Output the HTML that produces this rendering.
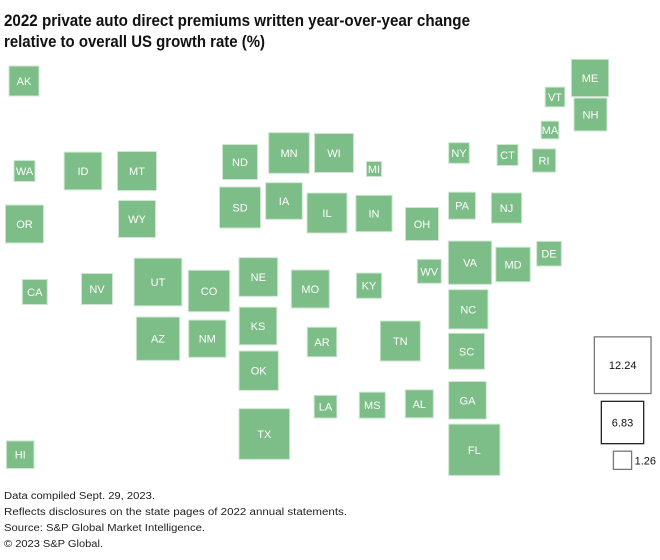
<!DOCTYPE html>
<html><head><meta charset="utf-8"><style>
html,body{margin:0;padding:0;background:#fff;width:660px;height:560px;overflow:hidden}
svg{display:block;font-family:"Liberation Sans",sans-serif}
</style></head><body>
<svg id="chart" width="660" height="560" viewBox="0 0 660 560">
<text x="4" y="26" font-size="17" font-weight="bold" fill="#111" textLength="466" lengthAdjust="spacingAndGlyphs">2022 private auto direct premiums written year-over-year change</text>
<text x="4" y="47" font-size="17" font-weight="bold" fill="#111" textLength="261" lengthAdjust="spacingAndGlyphs">relative to overall US growth rate (%)</text>
<g id="tiles"></g>
<g id="legend"></g>
<text x="4" y="499" font-size="10" fill="#222" textLength="151" lengthAdjust="spacingAndGlyphs">Data compiled Sept. 29, 2023.</text>
<text x="4" y="515" font-size="10" fill="#222" textLength="343" lengthAdjust="spacingAndGlyphs">Reflects disclosures on the state pages of 2022 annual statements.</text>
<text x="4" y="531" font-size="10" fill="#222" textLength="201" lengthAdjust="spacingAndGlyphs">Source: S&amp;P Global Market Intelligence.</text>
<text x="4" y="547" font-size="10" fill="#222" textLength="99" lengthAdjust="spacingAndGlyphs">© 2023 S&amp;P Global.</text>
</svg>
<script>
const states = ["AK","WA","ID","MT","OR","WY","ND","MN","SD","IA","IL","WI","ME","VT","NH","MA","NY","CT","RI","MI","IN","PA","NJ","OH","VA","MD","DE","WV","KY","CA","NV","UT","CO","NE","MO","AZ","NM","KS","OK","AR","LA","TX","HI","NC","TN","SC","MS","AL","GA","FL"];
const values = [3.43,1.68,5.42,5.80,5.50,5.22,4.67,6.31,6.41,5.13,6.10,5.80,5.30,1.48,4.15,1.19,1.63,1.68,2.07,0.86,5.02,2.78,3.50,4.15,7.14,4.54,2.32,2.19,2.44,2.38,3.66,8.67,6.53,5.71,5.50,7.14,5.30,5.39,5.89,3.32,1.96,9.79,2.90,5.89,6.10,4.94,2.58,2.99,5.39,10.03];
const legendValues = [12.24,6.83,1.26];
const legendLabels = ["12.24","6.83","1.26"];

// layout: tile centers (grid positions of the cartogram, not data)
const layout = {AK:[24,81],WA:[24.5,171],ID:[83,171],MT:[137,171],OR:[24.5,224],WY:[137,219],ND:[240,162],MN:[289,153],SD:[240,207.5],IA:[284,201],IL:[327,213],WI:[334,153],ME:[590,78],VT:[555,97],NH:[590.5,114.5],MA:[550,130],NY:[459,153],CT:[507.5,155],RI:[544,160.5],MI:[374,169],IN:[374,213.5],PA:[462,205.7],NJ:[506.5,208],OH:[422,224],VA:[470,262.7],MD:[513,264.5],DE:[549,253.7],WV:[429.3,271.3],KY:[369,285.7],CA:[34.8,292],NV:[97,289],UT:[158,282],CO:[209,291],NE:[258.3,277],MO:[310.3,289],AZ:[158,338.7],NM:[207.3,338.7],KS:[258,326],OK:[258.7,370.7],AR:[322,342],LA:[325.5,406.7],TX:[264.3,434],HI:[20.2,454.7],NC:[468.3,309.3],TN:[400.3,341],SC:[466.5,351.3],MS:[372.3,405.2],AL:[419.3,403.8],GA:[467.5,400.3],FL:[474.3,449.8]};
const K = 16.2;
function side(v){ return K*Math.sqrt(Math.max(v,0)); }
const NS = "http://www.w3.org/2000/svg";
const tiles = document.getElementById('tiles');
states.forEach((s,i)=>{
  const c = layout[s]; const w = side(values[i]);
  const g = document.createElementNS(NS,'g');
  
  
  const r = document.createElementNS(NS,'rect');
  
  
  r.setAttribute('x', c[0]-w/2); r.setAttribute('y', c[1]-w/2);
  r.setAttribute('width', w); r.setAttribute('height', w);
  r.setAttribute('fill', '#7dbe88'); r.setAttribute('stroke', '#cfe6d2'); r.setAttribute('stroke-width', '1');
  g.appendChild(r);
  const t = document.createElementNS(NS,'text');
  
  
  t.setAttribute('x', c[0]); t.setAttribute('y', c[1]+4);
  t.setAttribute('text-anchor', 'middle'); t.setAttribute('font-size', '11'); t.setAttribute('fill', '#fff');
  t.textContent = s;
  g.appendChild(t);
  tiles.appendChild(g);
});
const legend = document.getElementById('legend');
const legendCenters = [[622.7,365.2],[622.5,422.5],[622.5,460.3]];
legendValues.forEach((v,i)=>{
  const w = side(v); const c = legendCenters[i];
  const r = document.createElementNS(NS,'rect');
  
  
  r.setAttribute('x', c[0]-w/2); r.setAttribute('y', c[1]-w/2);
  r.setAttribute('width', w); r.setAttribute('height', w);
  r.setAttribute('fill', '#fff'); r.setAttribute('stroke', i==1?'#222':'#777'); r.setAttribute('stroke-width', '1.3');
  legend.appendChild(r);
  const t = document.createElementNS(NS,'text');
  
  
  if(i<2){ t.setAttribute('x', c[0]); t.setAttribute('text-anchor','middle'); }
  else { t.setAttribute('x', c[0]+w/2+3); }
  t.setAttribute('y', c[1]+4);
  t.setAttribute('font-size', '11'); t.setAttribute('fill', '#111');
  t.textContent = legendLabels[i];
  legend.appendChild(t);
});
</script>
</body></html>
